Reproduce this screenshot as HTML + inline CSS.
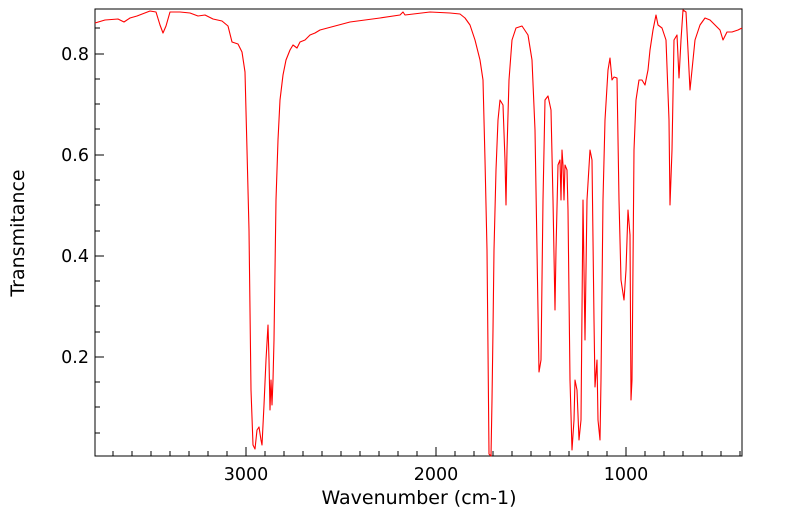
<!DOCTYPE html>
<html><head><style>body{margin:0;background:#fff}svg{display:block}</style></head><body>
<svg width="799" height="516" xmlns="http://www.w3.org/2000/svg" font-family="DejaVu Sans, Liberation Sans, sans-serif">
<rect x="95" y="9" width="647" height="447" fill="none" stroke="#000" stroke-width="1"/>
<g stroke="#000" stroke-width="1">
<path d="M246,456v-9M436,456v-9M626,456v-9"/>
<path d="M113,456v-5M132,456v-5M151,456v-5M170,456v-5M189,456v-5M208,456v-5M227,456v-5M265,456v-5M284,456v-5M303,456v-5M322,456v-5M341,456v-5M360,456v-5M379,456v-5M398,456v-5M417,456v-5M455,456v-5M474,456v-5M493,456v-5M512,456v-5M531,456v-5M550,456v-5M569,456v-5M588,456v-5M607,456v-5M645,456v-5M664,456v-5M683,456v-5M702,456v-5M721,456v-5M740,456v-5"/>
<path d="M95,54h9M95,155h9M95,256h9M95,357h9"/>
<path d="M95,28h5M95,79h5M95,104h5M95,129h5M95,180h5M95,205h5M95,231h5M95,281h5M95,306h5M95,332h5M95,382h5M95,407h5M95,433h5"/>
</g>
<g font-size="17.5" fill="#000">
<text x="246" y="480" text-anchor="middle">3000</text>
<text x="436" y="480" text-anchor="middle">2000</text>
<text x="626" y="480" text-anchor="middle">1000</text>
<text x="89" y="60" text-anchor="end">0.8</text>
<text x="89" y="161" text-anchor="end">0.6</text>
<text x="89" y="262" text-anchor="end">0.4</text>
<text x="89" y="363" text-anchor="end">0.2</text>
<text x="419" y="504" text-anchor="middle" font-size="19">Wavenumber (cm-1)</text>
<text transform="translate(24,233) rotate(-90)" text-anchor="middle" font-size="19">Transmitance</text>
</g>
<polyline fill="none" stroke="#f00" stroke-width="1.1" stroke-linejoin="round" points="95,23 105,20 118,19 124,22 130,18 137,16 150,11 156,12 160,25 163,33 166,26 170,12 180,12 190,13 198,16 205,15 213,19 222,21 228,26 232,42 238,44 242,52 245,72 247,150 249,230 251,390 253,445 255,449 257,430 259,427 261,440 262,445 264,405 266,360 268,325 269,360 270,410 271,380 272,405 273,380 274,340 276,200 278,140 280,100 283,75 286,60 290,50 293,45 297,48 300,42 305,40 310,35 315,33 320,30 335,26 350,22 365,20 380,18 400,15 403,12 405,15 430,12 450,13 460,14 465,18 470,25 475,40 480,60 483,80 485,160 487,250 488,350 489,454 491,456 492,400 493,330 494,250 496,170 498,120 500,100 503,105 505,160 506,205 507,150 509,80 512,40 516,28 522,26 528,35 532,60 535,130 537,250 539,372 541,360 543,200 545,100 548,96 551,110 553,200 555,310 556,250 558,165 560,160 561,200 562,150 563,165 564,200 565,165 567,170 568,210 570,380 572,450 574,420 575,380 577,390 579,440 581,420 583,200 585,340 587,200 590,150 592,160 594,320 595,387 597,360 598,420 600,440 601,380 603,200 605,120 608,70 610,58 612,80 614,77 617,78 619,200 621,280 624,300 626,270 628,210 630,235 631,400 632,380 634,150 636,100 639,80 642,80 645,85 648,70 650,50 653,30 656,15 658,25 662,28 666,40 669,120 670,205 672,150 674,40 677,35 679,78 681,40 683,10 686,12 688,50 690,90 692,70 695,40 700,25 705,18 710,20 715,25 720,30 723,40 727,32 732,32 738,30 742,28"/>
</svg>
</body></html>
